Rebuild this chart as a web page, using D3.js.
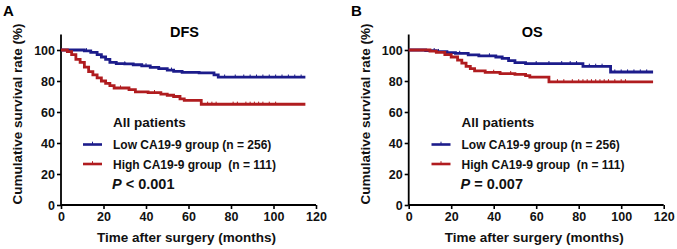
<!DOCTYPE html>
<html>
<head>
<meta charset="utf-8">
<script src="https://cdn.jsdelivr.net/npm/d3@7"></script>
<style>
  html, body { margin: 0; padding: 0; background: #fff; }
  svg { display: block; font-family: "Liberation Sans", Arial, sans-serif; }
</style>
</head>
<body>
<svg id="chart" width="677" height="249"></svg>
<script>
// Kaplan-Meier steps: [month, survival %]
const dfsLow = [[0,100],[11,99.5],[14,98.5],[17,97],[19,95.5],[21,94],[23,92],[26,91.2],[30,91],[34,90.5],[38,89.8],[42,88.8],[46,88],[50,87],[53,86.2],[57,85.6],[65,85.2],[72,84],[74,82.5],[115,82.5]];
const dfsHigh = [[0,100],[3,99],[5,97],[7,94],[9,92],[11,89],[13,86],[15,84],[17,82],[19,80],[21,78.5],[23,77],[25,75.5],[32,74.5],[35,73],[41,72.5],[47,71.5],[50,70.8],[53,70],[56,68.5],[58,67.5],[66,65],[115,65]];
const osLow = [[0,100],[8,99.6],[13,99],[18,98.3],[22,97.8],[28,96.8],[33,96.2],[41,95.5],[44,94.6],[47,93.2],[50,91.8],[55,91.2],[82,89.5],[95,85.8],[115,85.8]];
const osHigh = [[0,100],[10,99.3],[13,98.5],[17,97],[20,95.5],[23,93.5],[25,91.5],[27,89.5],[29,88],[31,86.5],[36,85.6],[43,84.8],[50,84.3],[55,83.5],[57,82.5],[66,79.5],[115,79.5]];

// censored times (small tick marks)
const dfsLowCens = [12,30,40,52,77,82,86,89,92,95,98,101,104,107,110,113];
const dfsHighCens = [28,44,69,71,73,81,83,87,89,91,93,95,98,101];
const osLowCens = [12,14,24,38,60,66,72,76,79,85,88,91,97,100,103,106,109,112];
const osHighCens = [40,48,70,73,77,80,82,84,86,88,90,92,94,97,100,102];

const xTicks = [0, 20, 40, 60, 80, 100, 120];
const yTicks = [0, 20, 40, 60, 80, 100];
const groupLabels = ["Low CA19-9 group (n = 256)", "High CA19-9 group  (n = 111)"];
const colors = ["#1c1c8b", "#b01c1f"];

const svg = d3.select("#chart");

function drawPanel(p) {
  const x = d3.scaleLinear().domain([0, 120]).range([p.x0, p.x1]);
  const y = d3.scaleLinear().domain([0, 110]).range([205, 34.5]);

  // panel letter + title
  svg.append("text").attr("x", p.letterX).attr("y", 16)
    .attr("font-size", "15px").attr("font-weight", "bold").text(p.letter);
  svg.append("text").attr("x", (p.x0 + p.x1) / 2 - 4).attr("y", 37)
    .attr("text-anchor", "middle").attr("font-size", "14.5px").attr("font-weight", "bold")
    .text(p.title);

  // axes
  const gx = svg.append("g").attr("transform", "translate(0,205)")
    .call(d3.axisBottom(x).tickValues(xTicks).tickSize(4).tickPadding(3));
  const gy = svg.append("g").attr("transform", `translate(${p.x0},0)`)
    .call(d3.axisLeft(y).tickValues(yTicks).tickSize(4).tickPadding(2));
  [gx, gy].forEach(g => {
    g.select(".domain").attr("stroke", "#000").attr("stroke-width", 1.8);
    g.selectAll(".tick line").attr("stroke", "#000").attr("stroke-width", 1.6);
    g.selectAll(".tick text").attr("fill", "#111").attr("font-size", "12.5px")
      .attr("font-weight", "bold").attr("font-family", "Liberation Sans, Arial, sans-serif");
  });
  gx.select(".domain").attr("d", `M${p.x0},0H${p.x1}`);
  gy.select(".domain").attr("d", `M0,${y(0)}V${y(110)}`);

  // axis titles
  svg.append("text")
    .attr("transform", `translate(${p.x0 - 39},${114}) rotate(-90)`)
    .attr("text-anchor", "middle").attr("font-size", "13.5px").attr("font-weight", "bold")
    .attr("fill", "#111").text("Cumulative survival rate (%)");
  svg.append("text").attr("x", (p.x0 + p.x1) / 2 - 2).attr("y", 242)
    .attr("text-anchor", "middle").attr("font-size", "13.5px").attr("font-weight", "bold")
    .attr("fill", "#111").text("Time after surgery (months)");

  // curves
  const line = d3.line().x(d => x(d[0])).y(d => y(d[1])).curve(d3.curveStepAfter);
  p.series.forEach((s, i) => {
    svg.append("path").datum(s.steps)
      .attr("fill", "none").attr("stroke", colors[i]).attr("stroke-width", 2.8)
      .attr("d", line);
    const survAt = t => { let v = 100; s.steps.forEach(d => { if (d[0] <= t) v = d[1]; }); return v; };
    svg.append("g").selectAll("line").data(s.cens).join("line")
      .attr("x1", d => x(d)).attr("x2", d => x(d))
      .attr("y1", d => y(survAt(d)) - 2.6).attr("y2", d => y(survAt(d)))
      .attr("stroke", colors[i]).attr("stroke-width", 1);
  });

  // legend
  const lx = p.legX;
  svg.append("text").attr("x", lx + 30).attr("y", 127)
    .attr("font-size", "13.5px").attr("font-weight", "bold").attr("fill", "#111").text("All patients");
  groupLabels.forEach((lab, i) => {
    const ly = 144.5 + i * 19.5;
    svg.append("line").attr("x1", lx).attr("x2", lx + 19).attr("y1", ly).attr("y2", ly)
      .attr("stroke", colors[i]).attr("stroke-width", 2.6);
    svg.append("line").attr("x1", lx + 9.5).attr("x2", lx + 9.5).attr("y1", ly - 2.8).attr("y2", ly)
      .attr("stroke", colors[i]).attr("stroke-width", 1);
    svg.append("text").attr("x", lx + 30).attr("y", ly + 4.5)
      .attr("font-size", "12px").attr("font-weight", "bold").attr("fill", "#111")
      .attr("xml:space", "preserve").style("white-space", "pre").text(lab);
  });
  const pt = svg.append("text").attr("x", lx + 29).attr("y", 188.5)
    .attr("font-size", "14.5px").attr("font-weight", "bold").attr("fill", "#111");
  pt.append("tspan").attr("font-style", "italic").text("P");
  pt.append("tspan").text(p.pText);
}

drawPanel({ letter: "A", letterX: 3, title: "DFS", x0: 61, x1: 316, legX: 83,
  series: [{ steps: dfsLow, cens: dfsLowCens }, { steps: dfsHigh, cens: dfsHighCens }],
  pText: " < 0.001" });
drawPanel({ letter: "B", letterX: 351, title: "OS", x0: 408.7, x1: 663.7, legX: 431.5,
  series: [{ steps: osLow, cens: osLowCens }, { steps: osHigh, cens: osHighCens }],
  pText: " = 0.007" });
</script>
</body>
</html>
